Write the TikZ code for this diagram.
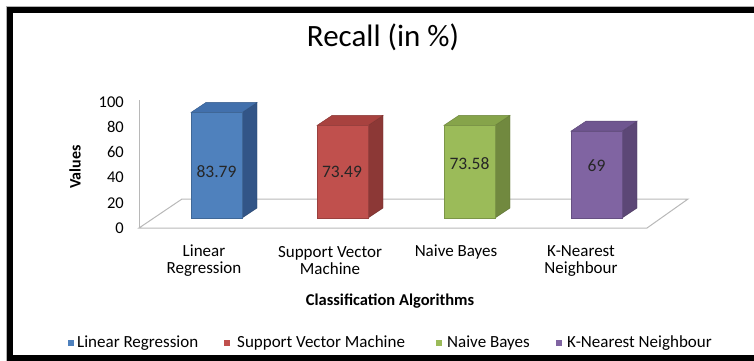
\documentclass[tikz,border=0pt]{standalone}
\usepackage{fontspec}
\setmainfont{Carlito}
\usetikzlibrary{positioning}
\definecolor{lrfront}{RGB}{79,129,189}
\definecolor{lrside}{RGB}{50,85,135}
\definecolor{lrtop}{RGB}{66,112,172}
\definecolor{svfront}{RGB}{192,80,77}
\definecolor{svside}{RGB}{140,56,54}
\definecolor{svtop}{RGB}{168,66,63}
\definecolor{nbfront}{RGB}{155,187,89}
\definecolor{nbside}{RGB}{113,137,63}
\definecolor{nbtop}{RGB}{134,164,74}
\definecolor{knfront}{RGB}{128,100,162}
\definecolor{knside}{RGB}{92,71,118}
\definecolor{kntop}{RGB}{111,86,144}

% one 3d bar: left x, height, front, side, top colour
\newcommand{\cuboid}[5]{%
  \filldraw[fill=#4, draw=#4!80!black, line width=0.4pt]
    (#1+51,218) -- (#1+66,208) -- (#1+66,208-#2) -- (#1+51,218-#2) -- cycle;
  \filldraw[fill=#5, draw=#5!80!black, line width=0.4pt]
    (#1,218-#2) -- (#1+15,208-#2) -- (#1+66,208-#2) -- (#1+51,218-#2) -- cycle;
  \filldraw[fill=#3, draw=#3!80!black, line width=0.4pt]
    (#1,218) rectangle (#1+51,218-#2);
}

\begin{document}
\begin{tikzpicture}[
  x=1pt, y=-1pt,
  gridline/.style={draw=black!28, line width=1pt},
  ticklabel/.style={anchor=east, inner sep=0pt, font=\fontsize{16.5}{16.5}\selectfont},
  catlabel/.style={align=center, inner sep=0pt, font=\fontsize{17}{17}\selectfont},
  vallabel/.style={inner sep=0pt, text=black!85, font=\fontsize{17.5}{17.5}\selectfont},
  legtext/.style={anchor=west, inner sep=0pt, font=\fontsize{17}{17}\selectfont},
  legbox/.style={minimum size=6pt, inner sep=0pt}
]
\useasboundingbox (0,0) rectangle (754,360);

% frame
\draw[black!30, line width=1pt] (6.5,6.5) rectangle (770,361);
\draw[line width=6pt] (10.3,10.3) rectangle (770,357.5);

\node (title) at (383,37) {\fontsize{31}{31}\selectfont Recall (in \%)};

% axis and floor
\draw[gridline] (139,100) -- (139,228);
\draw[gridline] (139,228) -- (647,228) -- (688,199) -- (182,199) -- cycle;

\node[ticklabel] (t100) at (124,102) {100};
\node[ticklabel] (t80) at (124,127.2) {80};
\node[ticklabel] (t60) at (124,152.4) {60};
\node[ticklabel] (t40) at (124,177.6) {40};
\node[ticklabel] (t20) at (124,202.8) {20};
\node[ticklabel] (t0) at (124,228) {0};

\node[rotate=90, font=\bfseries\fontsize{16}{16}\selectfont] (yname) at (75,167) {Values};

% bars
\cuboid{191}{105.6}{lrfront}{lrside}{lrtop}
\cuboid{317}{92.6}{svfront}{svside}{svtop}
\cuboid{444}{92.7}{nbfront}{nbside}{nbtop}
\cuboid{571}{86.9}{knfront}{knside}{kntop}

\node[vallabel] (vlr) at (216.5,172) {83.79};
\node[vallabel] (vsv) at (342,172) {73.49};
\node[vallabel] (vnb) at (469.5,164) {73.58};
\node[vallabel] (vkn) at (596.5,166) {69};

% categories
\node[catlabel] (clr) at (204,261) {Linear\\Regression};
\node[catlabel] (csv) at (330,261) {Support Vector\\Machine};
\node[catlabel, anchor=center] (cnb) at (456,252.5) {Naive Bayes};
\node[catlabel] (ckn) at (581,261) {K-Nearest\\Neighbour};

\node[font=\bfseries\fontsize{16.5}{16.5}\selectfont] (xname) at (390,301) {Classification Algorithms};

% legend
\node[legbox, fill=lrfront] (klr) at (71,343) {};
\node[legtext] (llr) at (77,343) {Linear Regression};
\node[legbox, fill=svfront] (ksv) at (227,343) {};
\node[legtext] (lsv) at (237,343) {Support Vector Machine};
\node[legbox, fill=nbfront] (knb) at (439,343) {};
\node[legtext] (lnb) at (447,343) {Naive Bayes};
\node[legbox, fill=knfront] (kkn) at (559,343) {};
\node[legtext] (lkn) at (567,343) {K-Nearest Neighbour};
\end{tikzpicture}
\end{document}
